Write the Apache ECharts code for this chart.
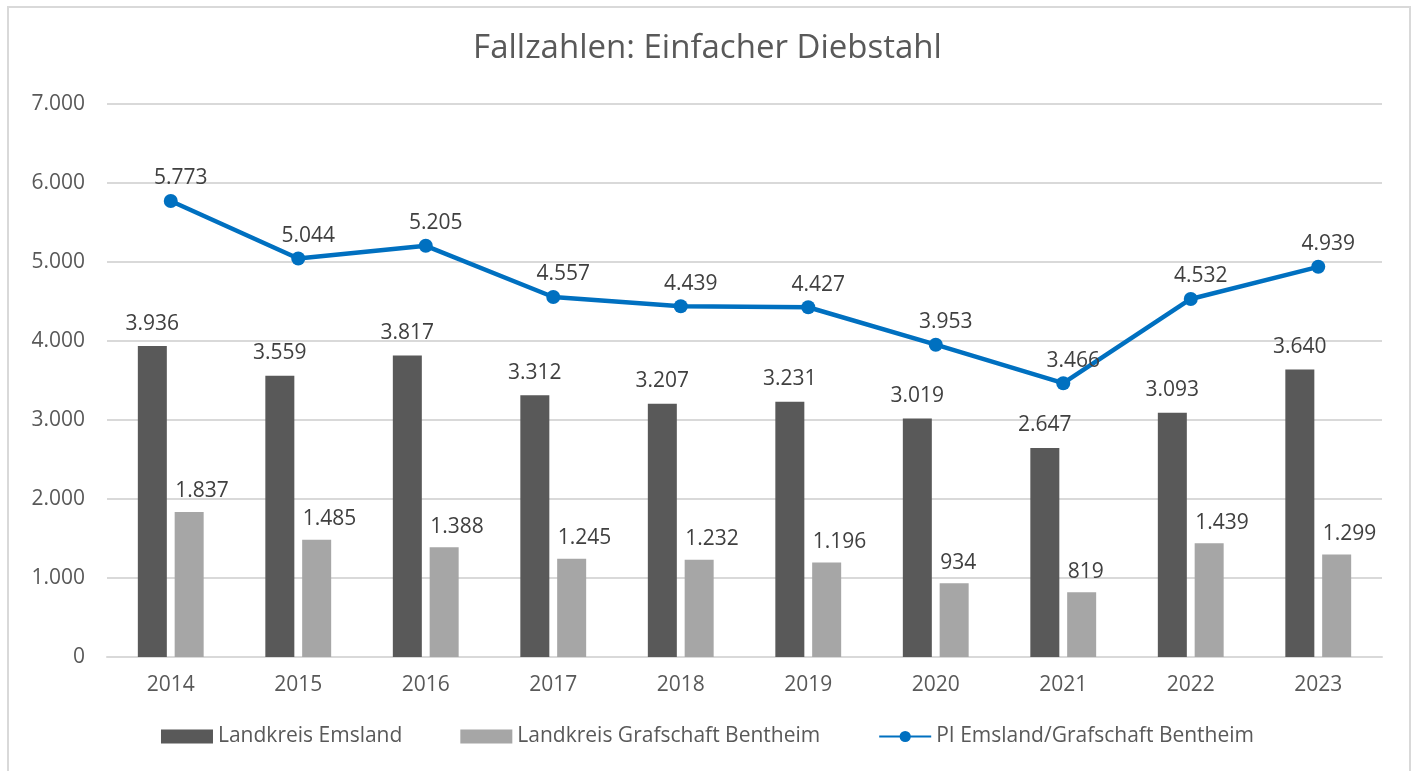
<!DOCTYPE html>
<html>
<head>
<meta charset="utf-8">
<title>Fallzahlen: Einfacher Diebstahl</title>
<script src="https://cdn.jsdelivr.net/npm/echarts@6/dist/echarts.min.js"></script>
<style>
  html, body { margin: 0; padding: 0; background: #fff; }
  #chart { width: 1415px; height: 771px; }
</style>
</head>
<body>
<div id="chart"></div>
<script>
// Jahre (x-Achse)
var years = ['2014', '2015', '2016', '2017', '2018', '2019', '2020', '2021', '2022', '2023']
// Landkreis Emsland
var emsland = [3936, 3559, 3817, 3312, 3207, 3231, 3019, 2647, 3093, 3640]
// Landkreis Grafschaft Bentheim
var bentheim = [1837, 1485, 1388, 1245, 1232, 1196, 934, 819, 1439, 1299]
// PI Emsland/Grafschaft Bentheim
var piGesamt = [5773, 5044, 5205, 4557, 4439, 4427, 3953, 3466, 4532, 4939]

var seriesNames = ['Landkreis Emsland', 'Landkreis Grafschaft Bentheim', 'PI Emsland/Grafschaft Bentheim']

var font = '"Open Sans", "Noto Sans", sans-serif'

// Tausenderpunkt wie im Original
function fmt(v) {
  return String(v).replace(/\B(?=(\d{3})+(?!\d))/g, '.')
}

var chart = echarts.init(document.getElementById('chart'))

var option = {
  animation: false,
  textStyle: { fontFamily: font },
  graphic: [
    {
      type: 'rect',
      shape: { x: 8, y: 7, width: 1402, height: 800 },
      style: { fill: 'none', stroke: '#d9d9d9', lineWidth: 2 },
      silent: true
    }
  ],
  title: {
    text: 'Fallzahlen: Einfacher Diebstahl',
    left: 'center',
    top: 27,
    textStyle: {
      fontFamily: font,
      fontSize: 33,
      fontWeight: 'normal',
      color: '#595959'
    }
  },
  legend: {
    bottom: 19,
    left: 'center',
    itemWidth: 52,
    itemHeight: 14,
    itemGap: 58,
    textStyle: { fontFamily: font, fontSize: 21, color: '#595959' },
    data: [
      { name: seriesNames[0], icon: 'rect' },
      { name: seriesNames[1], icon: 'rect' },
      { name: seriesNames[2] }
    ]
  },
  grid: {
    left: 107,
    right: 33,
    top: 104,
    bottom: 114,
    containLabel: false
  },
  xAxis: {
    type: 'category',
    data: years,
    axisLine: { lineStyle: { color: '#d9d9d9', width: 2 } },
    axisTick: { show: false },
    axisLabel: {
      color: '#595959',
      fontSize: 21,
      fontFamily: font,
      margin: 18
    }
  },
  yAxis: {
    type: 'value',
    min: 0,
    max: 7000,
    interval: 1000,
    axisLine: { show: false },
    axisTick: { show: false },
    splitLine: { lineStyle: { color: '#d9d9d9', width: 2 } },
    axisLabel: {
      color: '#595959',
      fontSize: 21,
      fontFamily: font,
      margin: 22,
      formatter: function (v) { return fmt(v) }
    }
  },
  series: [
    {
      name: seriesNames[0],
      type: 'bar',
      barWidth: 29,
      barGap: '27%',
      itemStyle: { color: '#595959' },
      label: {
        show: true,
        position: 'top',
        distance: 12,
        color: '#404040',
        fontSize: 21,
        fontFamily: font,
        formatter: function (p) { return fmt(p.value) }
      },
      data: emsland
    },
    {
      name: seriesNames[1],
      type: 'bar',
      barWidth: 29,
      barGap: '27%',
      itemStyle: { color: '#a6a6a6' },
      label: {
        show: true,
        position: 'top',
        distance: 10,
        align: 'left',
        offset: [-14, 0],
        color: '#404040',
        fontSize: 21,
        fontFamily: font,
        formatter: function (p) { return fmt(p.value) }
      },
      data: bentheim
    },
    {
      name: seriesNames[2],
      type: 'line',
      symbol: 'circle',
      symbolSize: 14,
      lineStyle: { color: '#0070c0', width: 4.5 },
      itemStyle: { color: '#0070c0' },
      z: 5,
      label: {
        show: true,
        position: 'top',
        distance: 5,
        offset: [10, 0],
        color: '#404040',
        fontSize: 21,
        fontFamily: font,
        formatter: function (p) { return fmt(p.value) }
      },
      data: piGesamt
    }
  ]
}

chart.setOption(option)
window.addEventListener('resize', () => { chart.resize() })
</script>
</body>
</html>
